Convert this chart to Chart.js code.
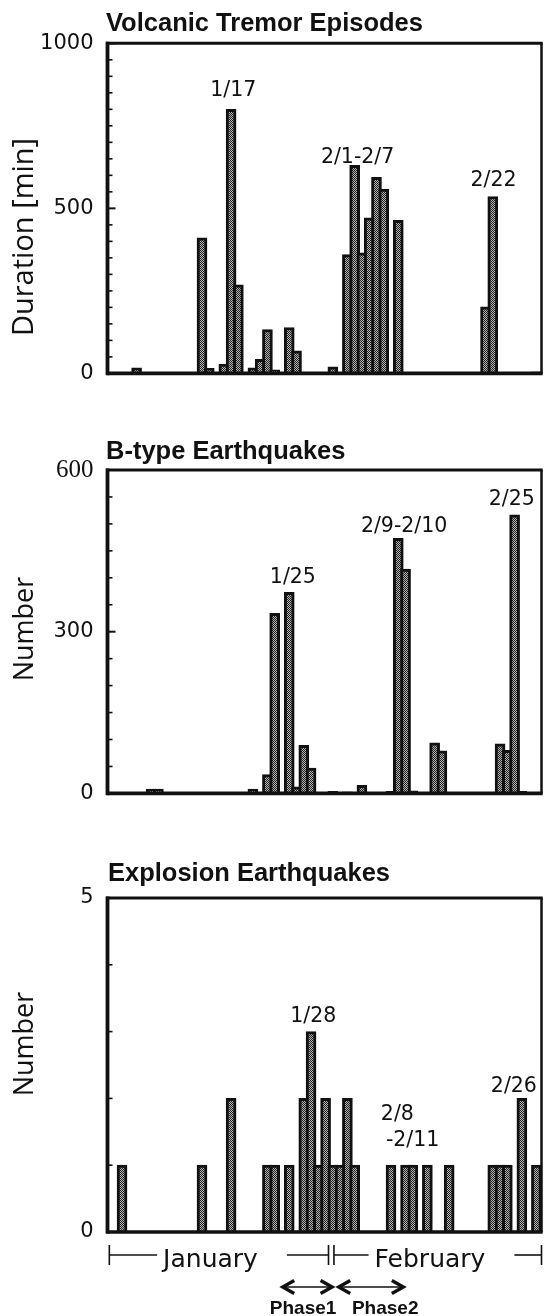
<!DOCTYPE html>
<html>
<head>
<meta charset="utf-8">
<script src="https://cdn.jsdelivr.net/npm/chart.js@4.4.1/dist/chart.umd.min.js"></script>
<style>
  html, body { margin: 0; padding: 0; background: #fff; }
  #wrap { position: relative; width: 545px; height: 1316px; overflow: hidden; background: #fff; }
  #wrap canvas { position: absolute; left: 0; }
</style>
</head>
<body>
<div id="wrap">
  <canvas id="tremor" width="545" height="400" style="top:0px"></canvas>
  <canvas id="btype" width="545" height="420" style="top:400px"></canvas>
  <canvas id="explosion" width="545" height="496" style="top:820px"></canvas>
</div>
<script>
// Day numbers run from 1 (1 January) to 59 (28 February).
const tremorDays    = [4, 13, 14, 16, 17, 18, 20, 21, 22, 23, 25, 26, 31, 33, 34, 35, 36, 37, 38, 40, 52, 53, 59];
const tremorMinutes = [17, 411, 15, 28, 800, 268, 17, 43, 133, 11, 139, 68, 20, 360, 630, 365, 471, 594, 558, 464, 202, 536, 5];

const bTypeDays   = [6, 7, 14, 20, 22, 23, 25, 26, 27, 28, 31, 33, 35, 39, 40, 41, 42, 44, 45, 46, 54, 55, 56, 57];
const bTypeCounts = [8, 8, 2, 8, 35, 334, 373, 12, 89, 47, 4, 3, 15, 4, 473, 416, 5, 2, 94, 79, 92, 80, 517, 4];

const explosionDays   = [2, 13, 17, 22, 23, 25, 27, 28, 29, 30, 31, 32, 33, 34, 39, 41, 42, 44, 47, 53, 54, 55, 57, 59];
const explosionCounts = [1, 1, 2, 1, 1, 1, 2, 3, 1, 2, 1, 1, 2, 1, 1, 1, 1, 1, 1, 1, 1, 1, 2, 1];

const tremorTickLabels    = [0, 500, 1000];
const bTypeTickLabels     = [0, 300, 600];
const explosionTickLabels = [0, 5];

const monthNames   = ['January', 'February'];
const monthFrom    = [0.25, 31.15];
const monthTo      = [30.4, 59.7];
const monthLabelAt = [14.17, 44.36];

const phaseNames   = ['Phase1', 'Phase2'];
const phaseFrom    = [23.9, 31.6];
const phaseTo      = [31.1, 40.9];
const phaseLabelAt = [26.9, 38.2];

const INK = '#111';
const DAY_MAX = 59.7;

// halftone fill used inside every bar
function stipple(ctx) {
  const c = document.createElement('canvas');
  c.width = 2; c.height = 2;
  const g = c.getContext('2d');
  g.fillStyle = '#b4b4b4'; g.fillRect(0, 0, 2, 2);
  g.fillStyle = '#222';
  g.fillRect(0, 0, 1, 1); g.fillRect(1, 1, 1, 1);
  return ctx.createPattern(c, 'repeat');
}

function line(ctx, x1, y1, x2, y2) {
  ctx.beginPath(); ctx.moveTo(x1, y1); ctx.lineTo(x2, y2); ctx.stroke();
}

// frame, inward ticks, titles, date notes and the month/phase strip
const panelDecor = {
  id: 'panelDecor',
  afterDatasetsDraw(chart, args, o) {
    const { ctx, chartArea: a, scales: { x, y } } = chart;
    ctx.save();
    ctx.strokeStyle = INK;
    ctx.fillStyle = INK;

    // inward tick marks on the value axis
    for (let v = y.min; v <= y.max + 1e-9; v += o.minorStep) {
      const py = y.getPixelForValue(v);
      const major = o.tickLabels.includes(v);
      ctx.lineWidth = major ? 2 : 1.6;
      line(ctx, a.left, py, a.left + (major ? 8 : 5), py);
    }

    // box
    ctx.lineWidth = 3;
    line(ctx, a.left - 1.5, a.top, a.right + 1.2, a.top);
    ctx.lineWidth = 2.5;
    line(ctx, a.right, a.top, a.right, a.bottom);
    ctx.lineWidth = 3.8;
    line(ctx, a.left, a.top - 1.5, a.left, a.bottom + 1.8);
    ctx.lineWidth = 3.6;
    line(ctx, a.left, a.bottom, a.right + 1.2, a.bottom);

    // panel title
    ctx.font = 'bold 25.5px "Liberation Sans", Arial, sans-serif';
    ctx.textAlign = 'left';
    ctx.textBaseline = 'alphabetic';
    ctx.fillText(o.title.text, o.title.x, o.title.y);

    // vertical axis title
    ctx.save();
    ctx.translate(o.yTitle.x, o.yTitle.y);
    ctx.rotate(-Math.PI / 2);
    ctx.font = o.yTitle.size + 'px "Open Sans", "Noto Sans", sans-serif';
    ctx.textAlign = 'center';
    ctx.fillText(o.yTitle.text, 0, 0);
    ctx.restore();

    // date notes above the bursts
    ctx.font = '20.5px "DejaVu Sans", sans-serif';
    o.notes.forEach(n => {
      ctx.textAlign = n.align || 'center';
      ctx.fillText(n.text, x.getPixelForValue(n.day), y.getPixelForValue(n.level));
    });

    // month brackets and phase arrows under the last panel
    if (o.months) {
      const ly = o.months.y;
      ctx.lineWidth = 1.6;
      ctx.font = '25px "DejaVu Sans", sans-serif';
      ctx.textAlign = 'center';
      monthNames.forEach((name, i) => {
        const s = x.getPixelForValue(monthFrom[i]);
        const e = x.getPixelForValue(monthTo[i]);
        const c = x.getPixelForValue(monthLabelAt[i]);
        const w = ctx.measureText(name).width;
        line(ctx, s, ly - 10, s, ly + 10);
        line(ctx, e, ly - 10, e, ly + 10);
        line(ctx, s, ly, c - w / 2 - 6, ly);
        line(ctx, c + w / 2 + 29, ly, e, ly);
        ctx.fillText(name, c, ly + 11.5);
      });

      const py = o.months.phaseY;
      phaseNames.forEach((name, i) => {
        const s = x.getPixelForValue(phaseFrom[i]);
        const e = x.getPixelForValue(phaseTo[i]);
        ctx.lineWidth = 1.6;
        line(ctx, s + 2, py, e - 2, py);
        ctx.lineWidth = 3.4;
        ctx.lineJoin = 'miter';
        ctx.beginPath();
        ctx.moveTo(s + 13, py - 6.5); ctx.lineTo(s + 1.5, py); ctx.lineTo(s + 13, py + 6.5);
        ctx.stroke();
        ctx.beginPath();
        ctx.moveTo(e - 13, py - 6.5); ctx.lineTo(e - 1.5, py); ctx.lineTo(e - 13, py + 6.5);
        ctx.stroke();
      });
      ctx.font = 'bold 19px "Liberation Sans", Arial, sans-serif';
      phaseNames.forEach((name, i) => {
        ctx.fillText(name, x.getPixelForValue(phaseLabelAt[i]), o.months.labelY);
      });
    }
    ctx.restore();
  }
};

function makePanel(id, days, values, yMax, tickLabels, minorStep, pad, decor, serifTop) {
  const canvas = document.getElementById(id);
  const ctx = canvas.getContext('2d');
  return new Chart(ctx, {
    type: 'bar',
    data: {
      datasets: [{
        data: days.map((d, i) => ({ x: d, y: values[i] })),
        backgroundColor: stipple(ctx),
        borderColor: INK,
        borderWidth: 3,
        borderSkipped: 'start',
        barThickness: 10
      }]
    },
    options: {
      responsive: false,
      animation: false,
      devicePixelRatio: 1,
      layout: { padding: pad },
      plugins: {
        legend: { display: false },
        tooltip: { enabled: false },
        title: { display: false },
        panelDecor: Object.assign({ tickLabels, minorStep }, decor)
      },
      scales: {
        x: {
          type: 'linear',
          min: 0,
          max: DAY_MAX,
          offset: false,
          display: false
        },
        y: {
          min: 0,
          max: yMax,
          border: { display: false },
          grid: { display: false, drawTicks: false },
          afterBuildTicks: s => { s.ticks = tickLabels.map(v => ({ value: v })); },
          afterFit: s => { s.width = 107.5; },
          ticks: {
            padding: 14,
            color: INK,
            font: c => (serifTop && c.tick && c.tick.value === yMax)
              ? { family: '"Liberation Serif", "DejaVu Serif", serif', size: 25 }
              : { family: '"DejaVu Sans", sans-serif', size: 21 },
            callback: v => String(v)
          }
        }
      }
    },
    plugins: [panelDecor]
  });
}

makePanel('tremor', tremorDays, tremorMinutes, 1000, tremorTickLabels, 50,
  { left: 0, right: 3.5, top: 43.3, bottom: 18 },
  {
    title: { text: 'Volcanic Tremor Episodes', x: 106, y: 31 },
    yTitle: { text: 'Duration [min]', x: 33, y: 237, size: 29 },
    notes: [
      { text: '1/17', day: 17.3, level: 840 },
      { text: '2/1-2/7', day: 34.4, level: 637 },
      { text: '2/22', day: 53.1, level: 568 }
    ]
  }, false);

makePanel('btype', bTypeDays, bTypeCounts, 600, bTypeTickLabels, 50,
  { left: 0, right: 3.5, top: 70, bottom: 12 },
  {
    title: { text: 'B-type Earthquakes', x: 106, y: 59.3 },
    yTitle: { text: 'Number', x: 33, y: 229, size: 27 },
    notes: [
      { text: '1/25', day: 25.5, level: 390 },
      { text: '2/9-2/10', day: 40.8, level: 485 },
      { text: '2/25', day: 55.6, level: 535 }
    ]
  }, true);

makePanel('explosion', explosionDays, explosionCounts, 5, explosionTickLabels, 1,
  { left: 0, right: 3.5, top: 78, bottom: 84 },
  {
    title: { text: 'Explosion Earthquakes', x: 108, y: 60.7 },
    yTitle: { text: 'Number', x: 33, y: 224, size: 27 },
    notes: [
      { text: '1/28', day: 28.3, level: 3.15 },
      { text: '2/8', day: 37.6, level: 1.68, align: 'left' },
      { text: '-2/11', day: 38.3, level: 1.29, align: 'left' },
      { text: '2/26', day: 55.9, level: 2.1 }
    ],
    months: { y: 435, phaseY: 467, labelY: 494 }
  }, false);
</script>
</body>
</html>
